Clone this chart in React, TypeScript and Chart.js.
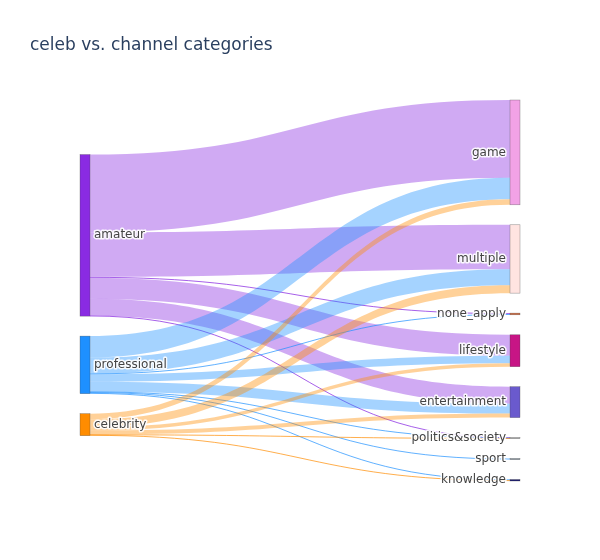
import React, { useEffect, useRef } from 'react';
import { Chart, ChartConfiguration, Plugin, registerables } from 'chart.js';

Chart.register(...registerables);

const chartTitle = 'celeb vs. channel categories';
const sources = ['amateur', 'professional', 'celebrity'];
const targets = ['game', 'multiple', 'none_apply', 'lifestyle', 'entertainment', 'politics&society', 'sport', 'knowledge'];

// flow from each source into each target (same order as targets)
const amateurFlows = [78, 44.5, 1, 21, 17, 0.4, 0, 0];
const professionalFlows = [21.5, 16, 0.7, 7.5, 10, 0.3, 1, 0.7];
const celebrityFlows = [5.5, 8, 0, 3.5, 4, 0.3, 0, 0.8];
const flows = [amateurFlows, professionalFlows, celebrityFlows];

const sourceColors = ['#8a2be2', '#1e90ff', '#ff8c00'];
const linkColors = ['rgba(138, 43, 226, 0.4)', 'rgba(30, 144, 255, 0.4)', 'rgba(255, 140, 0, 0.4)'];
const thinLinkColors = ['rgba(138, 43, 226, 0.75)', 'rgba(30, 144, 255, 0.7)', 'rgba(255, 140, 0, 0.7)'];
const targetColors = ['#f2a2e6', '#ffe4e1', '#d2693c', '#c71585', '#6a5acd', '#a0a0a0', '#708090', '#191970'];

const NODE_PAD = 20; // gap between nodes, value units
const NODE_W = 10; // px
const FONT = '"DejaVu Sans", Verdana, sans-serif';

const sum = (a: number[]) => a.reduce((s, v) => s + v, 0);

const targetTotals = targets.map((_, j) => sum(flows.map((f) => f[j])));
const sourceTotals = flows.map(sum);
const span = sum(targetTotals) + (targets.length - 1) * NODE_PAD;

type Range = [number, number];

function computeLayout() {
    // right column stacked top to bottom
    const tPos: Range[] = [];
    let y = 0;
    targetTotals.forEach((v) => {
        tPos.push([y, y + v]);
        y += v + NODE_PAD;
    });

    // left column: weighted centre of targets, then resolve collisions
    const sPos: Range[] = sourceTotals.map((v, i) => {
        const c = sum(flows[i].map((f, j) => (f * (tPos[j][0] + tPos[j][1])) / 2)) / v;
        return [c - v / 2, c + v / 2];
    });
    let cur = 0;
    sPos.forEach((p) => {
        const dy = cur - p[0];
        if (dy > 0) {
            p[0] += dy;
            p[1] += dy;
        }
        cur = p[1] + NODE_PAD;
    });
    let over = cur - NODE_PAD - span;
    if (over > 0) {
        for (let i = sPos.length - 1; i >= 0; i--) {
            sPos[i][0] -= over;
            sPos[i][1] -= over;
            over = i > 0 ? sPos[i - 1][1] + NODE_PAD - sPos[i][0] : 0;
            if (over <= 0) break;
        }
    }

    // link slots
    const links: { s: number; t: number; sy: Range; ty: Range }[] = [];
    const sOff = sPos.map((p) => p[0]);
    const tOff = tPos.map((p) => p[0]);
    flows.forEach((row, i) => {
        row.forEach((v, j) => {
            if (v <= 0) return;
            links.push({ s: i, t: j, sy: [sOff[i], sOff[i] + v], ty: [0, 0] });
            sOff[i] += v;
        });
    });
    targets.forEach((_, j) => {
        links.filter((l) => l.t === j).forEach((l) => {
            const v = l.sy[1] - l.sy[0];
            l.ty = [tOff[j], tOff[j] + v];
            tOff[j] += v;
        });
    });
    return { sPos, tPos, links };
}

const sankeyPlugin: Plugin = {
    id: 'sankeyDraw',
    afterDatasetsDraw(chart) {
        const { ctx } = chart;
        const xs = chart.scales.x;
        const ys = chart.scales.y;
        const { sPos, tPos, links } = computeLayout();
        const xl = xs.getPixelForValue(0);
        const xr = xs.getPixelForValue(1);
        const x0 = xl + NODE_W;
        const x1 = xr - NODE_W;
        const xm = (x0 + x1) / 2;
        const py = (v: number) => ys.getPixelForValue(v);

        ctx.save();

        // links
        links.forEach((l) => {
            const a0 = py(l.sy[0]);
            const a1 = py(l.sy[1]);
            const b0 = py(l.ty[0]);
            const b1 = py(l.ty[1]);
            if (a1 - a0 < 1.2) {
                const am = (a0 + a1) / 2;
                const bm = (b0 + b1) / 2;
                ctx.beginPath();
                ctx.moveTo(x0, am);
                ctx.bezierCurveTo(xm, am, xm, bm, x1, bm);
                ctx.strokeStyle = thinLinkColors[l.s];
                ctx.lineWidth = 1;
                ctx.stroke();
                return;
            }
            ctx.beginPath();
            ctx.moveTo(x0, a0);
            ctx.bezierCurveTo(xm, a0, xm, b0, x1, b0);
            ctx.lineTo(x1, b1);
            ctx.bezierCurveTo(xm, b1, xm, a1, x0, a1);
            ctx.closePath();
            ctx.fillStyle = linkColors[l.s];
            ctx.fill();
        });

        // nodes
        const drawNode = (x: number, r: Range, color: string) => {
            const top = py(r[0]);
            const h = Math.max(py(r[1]) - top, 1);
            ctx.fillStyle = color;
            ctx.fillRect(x, top, NODE_W, h);
            ctx.strokeStyle = 'rgba(68, 68, 68, 0.6)';
            ctx.lineWidth = 0.5;
            ctx.strokeRect(x, top, NODE_W, h);
        };
        sPos.forEach((r, i) => drawNode(xl, r, sourceColors[i]));
        tPos.forEach((r, j) => drawNode(x1, r, targetColors[j]));

        // labels
        ctx.font = `12px ${FONT}`;
        ctx.textBaseline = 'middle';
        ctx.lineJoin = 'round';
        const label = (text: string, x: number, yc: number, align: CanvasTextAlign) => {
            ctx.textAlign = align;
            ctx.strokeStyle = 'rgba(255, 255, 255, 0.9)';
            ctx.lineWidth = 3;
            ctx.strokeText(text, x, yc);
            ctx.fillStyle = '#444';
            ctx.fillText(text, x, yc);
        };
        sPos.forEach((r, i) => label(sources[i], x0 + 4, py((r[0] + r[1]) / 2), 'left'));
        tPos.forEach((r, j) => label(targets[j], x1 - 4, py((r[0] + r[1]) / 2), 'right'));

        // title
        ctx.font = `17px ${FONT}`;
        ctx.textAlign = 'left';
        ctx.textBaseline = 'alphabetic';
        ctx.fillStyle = '#2a3f5f';
        ctx.fillText(chartTitle, 30, 50);

        ctx.restore();
    },
};

const SankeyChart: React.FC = () => {
    const canvasRef = useRef<HTMLCanvasElement>(null);
    const chartRef = useRef<Chart | null>(null);

    useEffect(() => {
        if (!canvasRef.current) return;
        if (chartRef.current) chartRef.current.destroy();
        const ctx = canvasRef.current.getContext('2d');
        if (!ctx) return;

        const config: ChartConfiguration = {
            type: 'scatter',
            data: { datasets: [] },
            options: {
                animation: false,
                responsive: true,
                maintainAspectRatio: false,
                layout: { padding: { left: 80, right: 80, top: 100, bottom: 79 } },
                plugins: {
                    legend: { display: false },
                    tooltip: { enabled: false },
                    title: { display: false },
                },
                scales: {
                    x: { type: 'linear', min: 0, max: 1, display: false },
                    y: { type: 'linear', min: 0, max: span, reverse: true, display: false },
                },
            },
            plugins: [sankeyPlugin],
        };

        chartRef.current = new Chart(ctx, config);

        return () => {
            if (chartRef.current) {
                chartRef.current.destroy();
                chartRef.current = null;
            }
        };
    }, []);

    return <canvas ref={canvasRef} />;
};

export default function App() {
    return (
        <div style={{ position: 'absolute', left: 0, top: 0, width: 600, height: 560, background: '#fff' }}>
            <SankeyChart />
        </div>
    );
}
